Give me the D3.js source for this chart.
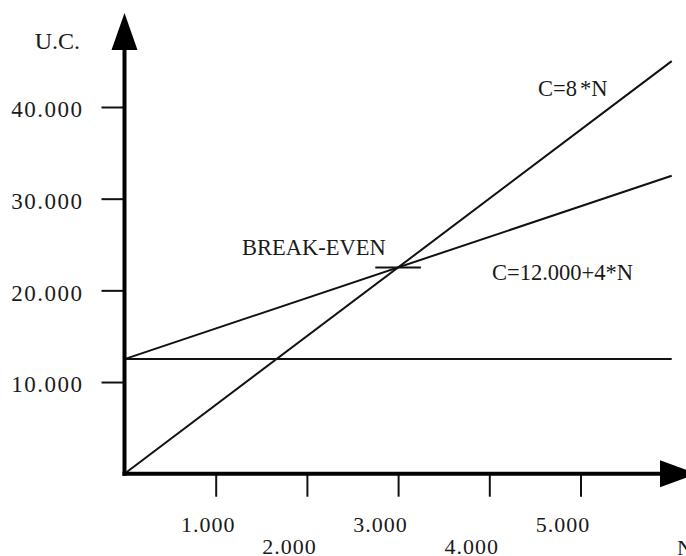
<!DOCTYPE html>
<html>
<head>
<meta charset="utf-8">
<script src="https://cdn.jsdelivr.net/npm/d3@7"></script>
<style>
  html, body { margin: 0; padding: 0; background: #fff; }
  svg { display: block; }
  text { font-family: "Liberation Serif", "Times New Roman", serif; fill: #1a1a1a; }
</style>
</head>
<body>
<svg id="chart" width="686" height="556"></svg>
<script>
// Units (N) along the horizontal axis
const units = [0, 6000];
// Revenue line, C = 8*N
const revenue = [0, 45000];
// Total cost line, C = 12.000 + 4*N
const totalCost = [12500, 32500];
// Fixed cost level
const fixedCost = [12500, 12500];
// Break-even point [N, C]
const breakEven = [3000, 22500];
const breakEvenHalfWidth = 250;

const xTicks = [1000, 2000, 3000, 4000, 5000];
const yTicks = [10000, 20000, 30000, 40000];

const svg = d3.select("#chart");
const fmt = d3.formatLocale({ decimal: ",", thousands: ".", grouping: [3], currency: ["", ""] }).format(",d");

const x = d3.scaleLinear().domain([0, 6000]).range([124.5, 671.7]);
const y = d3.scaleLinear().domain([0, 40000]).range([473.7, 107]);

// Y axis ticks and labels
const yAxis = svg.append("g")
  .attr("transform", `translate(${x(0)},0)`)
  .call(d3.axisLeft(y).tickValues(yTicks).tickSize(23).tickPadding(18).tickFormat(fmt));
yAxis.select(".domain").remove();
yAxis.selectAll(".tick line").attr("stroke", "#111").attr("stroke-width", 2);
yAxis.selectAll(".tick text")
  .attr("font-size", 23).attr("letter-spacing", 1.5).attr("fill", "#1a1a1a")
  .attr("font-family", "Liberation Serif, serif").attr("dy", "0.43em");

// X axis ticks and staggered labels
const xAxis = svg.append("g")
  .attr("transform", `translate(0,${y(0)})`)
  .call(d3.axisBottom(x).tickValues(xTicks).tickSize(23).tickFormat(fmt));
xAxis.select(".domain").remove();
xAxis.selectAll(".tick line").attr("stroke", "#111").attr("stroke-width", 2);
xAxis.selectAll(".tick text")
  .attr("font-size", 22).attr("letter-spacing", 1).attr("fill", "#1a1a1a")
  .attr("font-family", "Liberation Serif, serif")
  .attr("dy", null)
  .attr("x", (d, i) => i === 0 ? -8 : -18)
  .attr("y", (d, i) => i % 2 === 0 ? 58 : 80);

// Data lines
const line = d3.line().x(d => x(d[0])).y(d => y(d[1]));
const series = [revenue, totalCost, fixedCost];
svg.append("g").selectAll("path")
  .data(series)
  .join("path")
  .attr("d", s => line(units.map((n, i) => [n, s[i]])))
  .attr("fill", "none")
  .attr("stroke", "#111")
  .attr("stroke-width", 2);

// Break-even marker
svg.append("line")
  .attr("x1", x(breakEven[0] - breakEvenHalfWidth)).attr("x2", x(breakEven[0] + breakEvenHalfWidth))
  .attr("y1", y(breakEven[1])).attr("y2", y(breakEven[1]))
  .attr("stroke", "#111").attr("stroke-width", 2);

// Main axes with arrowheads
const axisTop = 50, axisRight = 660;
svg.append("line")
  .attr("x1", x(0)).attr("x2", x(0)).attr("y1", y(0) + 2).attr("y2", axisTop)
  .attr("stroke", "#000").attr("stroke-width", 4);
svg.append("line")
  .attr("x1", x(0) - 2).attr("x2", axisRight).attr("y1", y(0)).attr("y2", y(0))
  .attr("stroke", "#000").attr("stroke-width", 4);
svg.append("path")
  .attr("d", `M${x(0)},13 L${x(0) - 13},${axisTop} L${x(0) + 13},${axisTop} Z`)
  .attr("fill", "#000");
svg.append("path")
  .attr("d", `M${axisRight + 37},${y(0)} L${axisRight},${y(0) - 13.5} L${axisRight},${y(0) + 13.5} Z`)
  .attr("fill", "#000");

// Axis titles and annotations
const label = (txt, px, py, size, anchor) => svg.append("text")
  .attr("x", px).attr("y", py).attr("font-size", size)
  .attr("text-anchor", anchor || "start").text(txt);
label("U.C.", 80, 49, 24, "end");
label("N", 677, 555, 22);
label("C=8 *N", 538, 96, 22.5).attr("word-spacing", -2.5);
label("C=12.000+4*N", 492, 280, 22.5);
label("BREAK-EVEN", 242, 255, 22.5);
</script>
</body>
</html>
